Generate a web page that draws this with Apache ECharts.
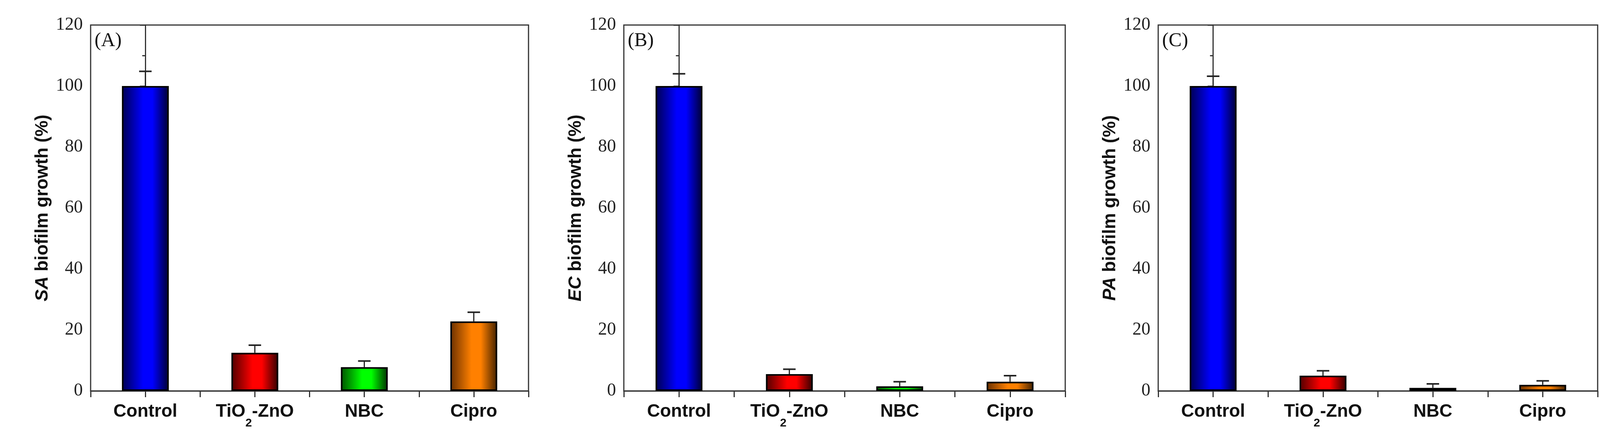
<!DOCTYPE html>
<html><head><meta charset="utf-8">
<script src="https://cdn.jsdelivr.net/npm/echarts@6/dist/echarts.min.js"></script>
<style>html,body{margin:0;padding:0;background:#fff}#c{width:4104px;height:1123px}</style>
</head><body><div id="c"></div>
<script>
const categories = ['Control', 'TiO2-ZnO', 'NBC', 'Cipro'];
const panelLabels = ['(A)', '(B)', '(C)'];
const organisms = ['SA', 'EC', 'PA'];
const valuesA = [100, 12.5, 7.8, 22.8];
const errorsA = [4.8, 2.5, 2.0, 3.0];
const valuesB = [100, 5.5, 1.5, 3.0];
const errorsB = [4.0, 1.6, 1.5, 2.0];
const valuesC = [100, 5.0, 1.0, 2.0];
const errorsC = [3.2, 1.6, 1.3, 1.3];
const yTicks = [0, 20, 40, 60, 80, 100, 120];

const allValues = [valuesA, valuesB, valuesC];
const allErrors = [errorsA, errorsB, errorsC];
const barColors = [['#000050', '#0000ff', '#000030'], ['#500000', '#ff0000', '#300000'], ['#005000', '#00ff00', '#003000'], ['#6a3000', '#ff8000', '#402000']];
const grids = [[232, 1353], [1597, 2727], [2965, 4090]];
const W = 4104;

const chart = echarts.init(document.getElementById('c'));
const option = {animation: false, grid: [], xAxis: [], yAxis: [], series: [], graphic: []};
grids.forEach((g, i) => {
  option.grid.push({left: g[0], right: W - g[1], top: 64, bottom: 1123 - 1000, show: true, borderColor: '#333', borderWidth: 3, backgroundColor: 'transparent'});
  option.xAxis.push({type: 'value', gridIndex: i, min: -0.5, max: 3.5, interval: 0.5,
    axisLine: {lineStyle: {color: '#333', width: 3}}, splitLine: {show: false},
    axisTick: {length: 16, lineStyle: {color: '#333', width: 3}},
    axisLabel: {margin: 30, interval: 0, fontFamily: 'Liberation Sans', fontWeight: 'bold', fontSize: 46, color: '#111',
      formatter: v => { if (Math.abs(v - Math.round(v)) > 1e-6 || v < 0 || v > 3) return ''; const c = categories[Math.round(v)]; return c === 'TiO2-ZnO' ? '{n|TiO}{s|2}{n|-ZnO}' : c; },
      rich: {n: {fontFamily: 'Liberation Sans', fontWeight: 'bold', fontSize: 46, color: '#111'}, s: {fontFamily: 'Liberation Sans', fontWeight: 'bold', fontSize: 30, color: '#111', verticalAlign: 'bottom', padding: [0, 0, -22, 0]}}}});
  option.yAxis.push({type: 'value', gridIndex: i, min: 0, max: 120, interval: 20,
    axisLine: {show: true, lineStyle: {color: '#333', width: 3}}, splitLine: {show: false},
    axisTick: {length: 14, lineStyle: {color: '#333', width: 3}},
    minorTick: {show: true, splitNumber: 2, length: 8, lineStyle: {color: '#333', width: 3}},
    axisLabel: {margin: 20, fontFamily: 'Liberation Sans Narrow', fontSize: 46, color: '#222', formatter: v => yTicks.includes(v) ? String(v) : ''},
    name: '{i|' + organisms[i] + '}{n| biofilm growth (%)}', nameLocation: 'middle', nameGap: 100, nameRotate: 90,
    nameTextStyle: {rich: {i: {fontFamily: 'Liberation Sans', fontWeight: 'bold', fontStyle: 'italic', fontSize: 46, color: '#111'}, n: {fontFamily: 'Liberation Sans', fontWeight: 'bold', fontSize: 46, color: '#111'}}}});
  const vals = allValues[i], errs = allErrors[i];
  option.series.push({type: 'bar', xAxisIndex: i, yAxisIndex: i, barWidth: 120, z: 3,
    data: vals.map((v, k) => ({value: [k, v], itemStyle: {borderColor: '#000', borderWidth: 4,
      color: new echarts.graphic.LinearGradient(0, 0, 1, 0, [{offset: 0, color: barColors[k][0]}, {offset: 0.45, color: barColors[k][1]}, {offset: 0.65, color: barColors[k][1]}, {offset: 1, color: barColors[k][2]}])}}))});
  option.series.push({type: 'custom', xAxisIndex: i, yAxisIndex: i, z: 2,
    data: vals.map((v, k) => [k, v, v + errs[k]]),
    renderItem: (p, api) => {
      const b = api.coord([api.value(0), api.value(1)]), t = api.coord([api.value(0), api.value(2)]);
      return {type: 'group', children: [
        {type: 'line', shape: {x1: b[0], y1: b[1], x2: t[0], y2: t[1]}, style: {stroke: '#222', lineWidth: 3}},
        {type: 'line', shape: {x1: t[0] - 16, y1: t[1], x2: t[0] + 16, y2: t[1]}, style: {stroke: '#222', lineWidth: 4}}]};
    }});
  option.graphic.push({type: 'text', left: g[0] + 10, top: 80, style: {text: panelLabels[i], fontFamily: 'Liberation Sans Narrow', fontSize: 50, fill: '#111'}});
});
chart.setOption(option);
</script></body></html>
